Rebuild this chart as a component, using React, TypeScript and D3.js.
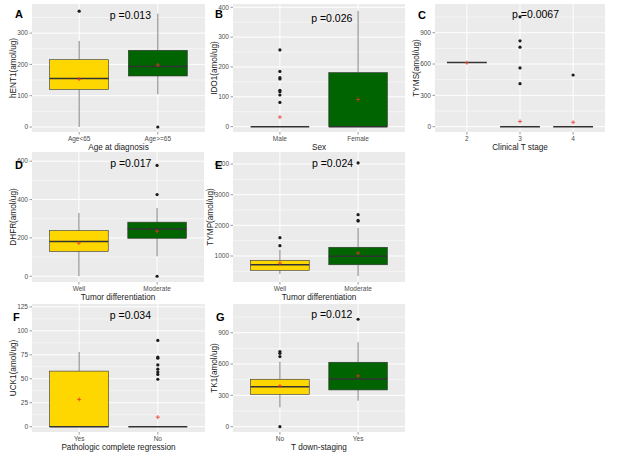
import React from "react";
import * as d3 from "d3";

type Box = { group: string; lo: number; q1: number; med: number; q3: number; hi: number; mean: number; out: number[] };

const hENT1Boxes: Box[] = [
  { group: "Age<65", lo: 0, q1: 120, med: 155, q3: 215, hi: 275, mean: 153, out: [370] },
  { group: "Age>=65", lo: 105, q1: 163, med: 193, q3: 245, hi: 362, mean: 198, out: [0] },
];
const IDO1Boxes: Box[] = [
  { group: "Male", lo: 0, q1: 0, med: 0, q3: 0, hi: 0, mean: 32, out: [257, 185, 164, 160, 122, 117, 106, 81] },
  { group: "Female", lo: 0, q1: 0, med: 0, q3: 181, hi: 388, mean: 91, out: [] },
];
const TYMSBoxes: Box[] = [
  { group: "2", lo: 615, q1: 615, med: 615, q3: 615, hi: 615, mean: 612, out: [] },
  { group: "3", lo: 0, q1: 0, med: 0, q3: 0, hi: 0, mean: 50, out: [1052, 822, 761, 563, 412] },
  { group: "4", lo: 0, q1: 0, med: 0, q3: 0, hi: 0, mean: 42, out: [495] },
];
const DHFRBoxes: Box[] = [
  { group: "Well", lo: 0, q1: 130, med: 181, q3: 238, hi: 330, mean: 173, out: [] },
  { group: "Moderate", lo: 104, q1: 198, med: 247, q3: 282, hi: 356, mean: 235, out: [578, 426, 0] },
];
const TYMPBoxes: Box[] = [
  { group: "Well", lo: 410, q1: 535, med: 715, q3: 860, hi: 1205, mean: 770, out: [1598, 1337] },
  { group: "Moderate", lo: 350, q1: 715, med: 990, q3: 1285, hi: 1914, mean: 1098, out: [4035, 2348, 2160, 2140] },
];
const UCK1Boxes: Box[] = [
  { group: "Yes", lo: 0, q1: 0, med: 0, q3: 58, hi: 78, mean: 28.5, out: [] },
  { group: "No", lo: 0, q1: 0, med: 0, q3: 0, hi: 0, mean: 10, out: [90, 72.5, 71.5, 64.5, 60, 57, 54.5, 49.5] },
];
const TK1Boxes: Box[] = [
  { group: "No", lo: 185, q1: 310, med: 383, q3: 454, hi: 623, mean: 390, out: [719, 703, 671, 0] },
  { group: "Yes", lo: 249, q1: 352, med: 457, q3: 617, hi: 809, mean: 486, out: [1029] },
];

const tickA = [0, 100, 200, 300];
const tickB = [0, 100, 200, 300, 400];
const tickC = [0, 300, 600, 900];
const tickD = [0, 200, 400, 600];
const tickE = [1000, 2000, 3000, 4000];
const tickF = [0, 25, 50, 75, 100, 125];
const tickG = [0, 300, 600, 900];

const pValues = ["p =0.013", "p =0.026", "p =0.0067", "p =0.017", "p =0.024", "p =0.034", "p =0.012"];
const letters = ["A", "B", "C", "D", "E", "F", "G"];
const yTitles = ["hENT1(amol/ug)", "IDO1(amol/ug)", "TYMS(amol/ug)", "DHFR(amol/ug)", "TYMP(amol/ug)", "UCK1(amol/ug)", "TK1(amol/ug)"];
const xTitles = ["Age at diagnosis", "Sex", "Clinical T stage", "Tumor differentiation", "Tumor differentiation", "Pathologic complete regression", "T down-staging"];

const FILLS = ["#FFD700", "#006400", "#006400"];
const FONT = "'Liberation Sans', Arial, sans-serif";

type Cfg = {
  boxes: Box[]; ticks: number[]; domain: [number, number];
  x0: number; x1: number; y0: number; y1: number;
  pX: number; pY: number; letterX: number; letterY: number; yTitleOff: number;
};

const panels: Cfg[] = [
  { boxes: hENT1Boxes, ticks: tickA, domain: [-16, 393], x0: 32, x1: 205, y0: 4, y1: 132, pX: 1.39, pY: 345, letterX: 15, letterY: 18, yTitleOff: 19 },
  { boxes: IDO1Boxes, ticks: tickB, domain: [-18, 411], x0: 233, x1: 405, y0: 4, y1: 132, pX: 1.4, pY: 352, letterX: 215, letterY: 18, yTitleOff: 19 },
  { boxes: TYMSBoxes, ticks: tickC, domain: [-51, 1175], x0: 435, x1: 605, y0: 4, y1: 132, pX: 1.85, pY: 1045, letterX: 418, letterY: 19, yTitleOff: 19 },
  { boxes: DHFRBoxes, ticks: tickD, domain: [-30, 648], x0: 32, x1: 204, y0: 152, y1: 282, pX: 1.4, pY: 568, letterX: 15, letterY: 169, yTitleOff: 19 },
  { boxes: TYMPBoxes, ticks: tickE, domain: [153, 4392], x0: 233, x1: 405, y0: 152, y1: 282, pX: 1.41, pY: 3910, letterX: 215, letterY: 169, yTitleOff: 23 },
  { boxes: UCK1Boxes, ticks: tickF, domain: [-5.5, 128], x0: 32, x1: 205, y0: 304, y1: 432, pX: 1.39, pY: 112, letterX: 13, letterY: 321, yTitleOff: 19 },
  { boxes: TK1Boxes, ticks: tickG, domain: [-51, 1175], x0: 233, x1: 405, y0: 304, y1: 432, pX: 1.4, pY: 1045, letterX: 216, letterY: 321, yTitleOff: 19 },
];

function Panel({ cfg, i }: { cfg: Cfg; i: number }) {
  const n = cfg.boxes.length;
  const x = d3.scaleLinear().domain([0.4, n + 0.6]).range([cfg.x0, cfg.x1]);
  const y = d3.scaleLinear().domain(cfg.domain).range([cfg.y1, cfg.y0]);
  const step = cfg.ticks[1] - cfg.ticks[0];
  const minor: number[] = [];
  for (let v = cfg.ticks[0] - step / 2; v <= cfg.domain[1]; v += step) {
    if (v >= cfg.domain[0]) minor.push(v);
  }
  const hw = 0.375;
  const mid = (cfg.x0 + cfg.x1) / 2;
  return (
    <g>
      <rect x={cfg.x0} y={cfg.y0} width={cfg.x1 - cfg.x0} height={cfg.y1 - cfg.y0} fill="#EBEBEB" />
      {minor.map((v) => (
        <line key={"m" + v} x1={cfg.x0} x2={cfg.x1} y1={y(v)} y2={y(v)} stroke="#fff" strokeWidth={0.5} />
      ))}
      {cfg.ticks.map((v) => (
        <line key={"g" + v} x1={cfg.x0} x2={cfg.x1} y1={y(v)} y2={y(v)} stroke="#fff" strokeWidth={1} />
      ))}
      {cfg.boxes.map((b, k) => (
        <line key={"gx" + k} x1={x(k + 1)} x2={x(k + 1)} y1={cfg.y0} y2={cfg.y1} stroke="#fff" strokeWidth={1} />
      ))}
      {cfg.boxes.map((b, k) => {
        const cx = x(k + 1);
        const bx0 = x(k + 1 - hw);
        const bx1 = x(k + 1 + hw);
        return (
          <g key={"b" + k}>
            {b.hi > b.q3 && <line x1={cx} x2={cx} y1={y(b.q3)} y2={y(b.hi)} stroke="#333" strokeWidth={0.6} />}
            {b.lo < b.q1 && <line x1={cx} x2={cx} y1={y(b.q1)} y2={y(b.lo)} stroke="#333" strokeWidth={0.6} />}
            <rect x={bx0} y={y(b.q3)} width={bx1 - bx0} height={Math.max(0, y(b.q1) - y(b.q3))} fill={FILLS[k]} stroke="#333" strokeWidth={0.6} />
            <line x1={bx0} x2={bx1} y1={y(b.med)} y2={y(b.med)} stroke="#333" strokeWidth={1.5} />
            {b.out.map((o, j) => (
              <circle key={j} cx={cx} cy={y(o)} r={1.6} fill="#1a1a1a" />
            ))}
            <g stroke="#E8312A" strokeWidth={0.8}>
              <line x1={cx - 2} x2={cx + 2} y1={y(b.mean)} y2={y(b.mean)} />
              <line x1={cx} x2={cx} y1={y(b.mean) - 2} y2={y(b.mean) + 2} />
            </g>
          </g>
        );
      })}
      {cfg.ticks.map((v) => (
        <g key={"t" + v}>
          <line x1={cfg.x0 - 2.5} x2={cfg.x0} y1={y(v)} y2={y(v)} stroke="#333" strokeWidth={0.5} />
          <text x={cfg.x0 - 4} y={y(v)} dy="0.35em" textAnchor="end" fontSize={6.5} fill="#4D4D4D" fontFamily={FONT}>
            {v}
          </text>
        </g>
      ))}
      {cfg.boxes.map((b, k) => (
        <g key={"xt" + k}>
          <line x1={x(k + 1)} x2={x(k + 1)} y1={cfg.y1} y2={cfg.y1 + 2.5} stroke="#333" strokeWidth={0.5} />
          <text x={x(k + 1)} y={cfg.y1 + 9} textAnchor="middle" fontSize={6.5} fill="#4D4D4D" fontFamily={FONT}>
            {b.group}
          </text>
        </g>
      ))}
      <text x={mid} y={cfg.y1 + 17.5} textAnchor="middle" fontSize={8.2} fill="#1a1a1a" fontFamily={FONT}>
        {xTitles[i]}
      </text>
      <text
        transform={`translate(${cfg.x0 - cfg.yTitleOff},${(cfg.y0 + cfg.y1) / 2}) rotate(-90)`}
        dy="0.35em"
        textAnchor="middle"
        fontSize={8.2}
        fill="#1a1a1a"
        fontFamily={FONT}
      >
        {yTitles[i]}
      </text>
      <text x={x(cfg.pX)} y={y(cfg.pY)} fontSize={10.5} fill="#000" fontFamily={FONT}>
        {pValues[i]}
      </text>
      <text x={cfg.letterX} y={cfg.letterY} fontSize={11} fontWeight="bold" fill="#000" fontFamily={FONT}>
        {letters[i]}
      </text>
    </g>
  );
}

export default function App() {
  return (
    <svg width={618} height={460} style={{ display: "block", position: "absolute", left: 0, top: 0, background: "#fff" }}>
      <rect width={618} height={460} fill="#fff" />
      {panels.map((p, i) => (
        <Panel key={i} cfg={p} i={i} />
      ))}
    </svg>
  );
}
